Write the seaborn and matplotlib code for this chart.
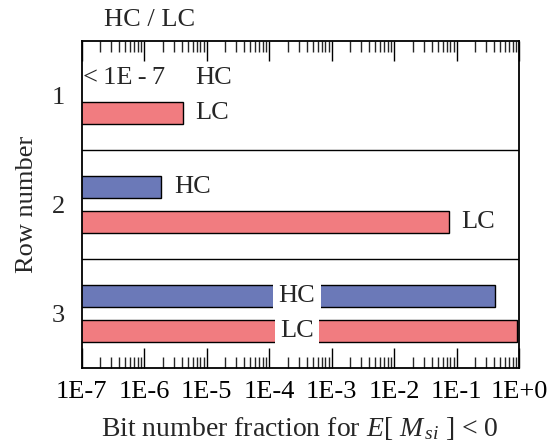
import numpy as np
import pandas as pd
import matplotlib
matplotlib.use("Agg")
import matplotlib.pyplot as plt
from matplotlib.ticker import FixedLocator, LogLocator, NullFormatter
import seaborn as sns

# Fraction of bits with E[M_si] < 0, per row, for high-/low-confidence cells
rows = ["1", "2", "3"]
hc_values = [np.nan, 1.9e-6, 0.42]     # row 1 HC is below 1E-7
lc_values = [4.2e-6, 0.075, 0.93]
series = ["HC", "LC"]
tick_values = [1e-7, 1e-6, 1e-5, 1e-4, 1e-3, 1e-2, 1e-1, 1e0]
tick_labels = ["1E-7", "1E-6", "1E-5", "1E-4", "1E-3", "1E-2", "1E-1", "1E+0"]

df = pd.DataFrame({
    "row": rows * 2,
    "cell": ["HC"] * 3 + ["LC"] * 3,
    "fraction": hc_values + lc_values,
})

sns.set_theme(style="white")
plt.rcParams["font.family"] = ["Liberation Serif", "DejaVu Serif"]
plt.rcParams["mathtext.fontset"] = "custom"
plt.rcParams["mathtext.rm"] = "Liberation Serif"
plt.rcParams["mathtext.it"] = "Liberation Serif:italic"

FS = 19
colors = {"HC": "#6b79b8", "LC": "#f17c80"}

fig = plt.figure(figsize=(5.55, 4.45), dpi=100)
ax = fig.add_axes([81.5 / 555, 1 - 368 / 445, (519 - 81.5) / 555, (368 - 41) / 445])

sns.barplot(data=df, x="fraction", y="row", hue="cell", hue_order=series,
            order=rows, orient="h", palette=colors, saturation=1,
            width=0.64, gap=0.375, edgecolor="black", linewidth=1.0,
            errorbar=None, legend=False, ax=ax)

# Bars start at zero; on a log axis they run in from the left edge
ax.set_xscale("log")
ax.set_xlim(1e-7, 1.0)
ax.set_ylim(2.5, -0.5)

# Row separators
for yb in (0.5, 1.5):
    ax.axhline(yb, color="black", lw=1.0, zorder=3)

# Axis styling
for s in ax.spines.values():
    s.set_color("black")
    s.set_linewidth(1.3)
    s.set_zorder(6)
ax.xaxis.set_major_locator(FixedLocator(tick_values))
ax.set_xticklabels(tick_labels, fontsize=FS)
ax.xaxis.set_minor_locator(LogLocator(base=10, subs=np.arange(2, 10), numticks=20))
ax.xaxis.set_minor_formatter(NullFormatter())
ax.tick_params(axis="x", which="major", direction="in", length=14.5, width=1.0,
               top=True, bottom=True, pad=9, colors="black")
ax.tick_params(axis="x", which="minor", direction="in", length=8, width=1.0,
               top=True, bottom=True)
ax.tick_params(axis="y", which="both", length=0, pad=12, labelsize=FS)

ax.set_xlabel(r"Bit number fraction for $E$[ $M_{\,si}$ ] < 0", fontsize=20, labelpad=9)
ax.set_ylabel("Row number", fontsize=FS, labelpad=10)

# Bar labels
off = dict(textcoords="offset points", va="center", ha="left", fontsize=FS)
yh, yl = -0.16, 0.16
# row 1
ax.annotate("<\u20091E\u2009-\u20097", xy=(1e-7, 0 + yh), xytext=(1, 0), **off)
ax.annotate("HC", xy=(lc_values[0], 0 + yh), xytext=(9, 0), **off)
ax.annotate("LC", xy=(lc_values[0], 0 + yl), xytext=(9, 0), **off)
# row 2
ax.annotate("HC", xy=(hc_values[1], 1 + yh), xytext=(9, 0), **off)
ax.annotate("LC", xy=(lc_values[1], 1 + yl), xytext=(9, 0), **off)
# row 3, labels placed over the bars
box = dict(boxstyle="square,pad=0.2", fc="white", ec="none")
ax.text(2.8e-4, 2 + yh, "HC", ha="center", va="center", fontsize=FS, bbox=box, zorder=5)
ax.text(2.8e-4, 2 + yl, "LC", ha="center", va="center", fontsize=FS, bbox=box, zorder=5)

fig.text(150 / 555, 1 - 20 / 445, "HC / LC", ha="center", va="center", fontsize=FS)

fig.savefig("out.png", dpi=100)
